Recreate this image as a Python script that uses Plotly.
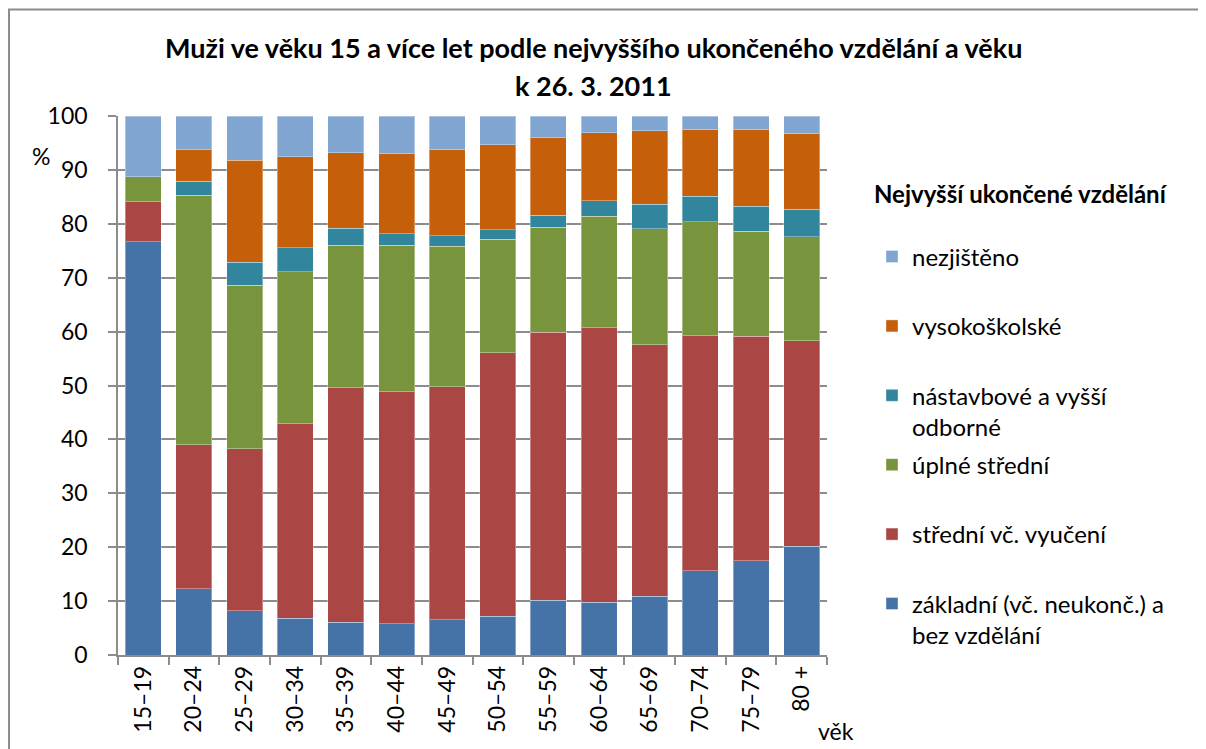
import plotly.graph_objects as go

categories = ["15–19", "20–24", "25–29", "30–34", "35–39", "40–44", "45–49",
              "50–54", "55–59", "60–64", "65–69", "70–74", "75–79", "80 +"]

zakladni = [76.7, 12.3, 8.2, 6.8, 6.1, 5.8, 6.5, 7.2, 10.2, 9.8, 10.9, 15.6, 17.5, 20.2]
stredni_vyuc = [7.4, 26.7, 30.1, 36.1, 43.5, 43.0, 43.3, 48.9, 49.7, 50.9, 46.7, 43.6, 41.6, 38.1]
uplne_stredni = [4.6, 46.3, 30.3, 28.2, 26.4, 27.2, 26.0, 21.0, 19.5, 20.7, 21.5, 21.2, 19.5, 19.3]
nastavbove = [0.0, 2.6, 4.3, 4.5, 3.2, 2.2, 2.0, 1.8, 2.2, 2.9, 4.5, 4.7, 4.7, 5.1]
vysokoskolske = [0.0, 5.8, 18.9, 16.8, 14.0, 14.8, 16.0, 15.8, 14.4, 12.6, 13.7, 12.4, 14.2, 14.1]
nezjisteno = [11.3, 6.3, 8.2, 7.6, 6.8, 7.0, 6.2, 5.3, 4.0, 3.1, 2.7, 2.5, 2.5, 3.2]

series_names = ["základní (vč. neukonč.) a<br>bez vzdělání",
                "střední vč. vyučení<br> ",
                "úplné střední<br> ",
                "nástavbové a vyšší<br>odborné",
                "vysokoškolské<br> ",
                "nezjištěno<br> "]
series_values = [zakladni, stredni_vyuc, uplne_stredni, nastavbove, vysokoskolske, nezjisteno]
series_colors = ["#4673A7", "#AA4644", "#78943C", "#31859C", "#C65F0A", "#7FA5D0"]

y_ticks = list(range(0, 101, 10))

FONT = "Lato, 'Open Sans', sans-serif"

fig = go.Figure()
n = len(series_names)
for i, (name, vals, col) in enumerate(zip(series_names, series_values, series_colors)):
    fig.add_trace(go.Bar(
        x=categories, y=vals, name=name, legendgroup=f"g{i}", legendrank=n - i,
        marker=dict(color=col, line=dict(color="rgba(255,255,255,0.35)", width=1)),
    ))

# page body adds an 8px offset; figure is sized so reference pixel positions line up
OFF = 8
W, H = 1206 - OFF, 749 - OFF
L, T = 118 - OFF, 116 - OFF
R = W - (827 - OFF)
B = H - (655 - OFF)
pw, ph = W - L - R, H - T - B

def px_x(x):
    return (x - OFF - L) / pw

def px_y(y):
    return (H - B - (y - OFF)) / ph

fig.update_layout(
    width=W, height=H,
    margin=dict(l=L, r=R, t=T, b=B, autoexpand=False),
    paper_bgcolor="white", plot_bgcolor="white",
    barmode="stack", bargap=0.29,
    font=dict(family=FONT, size=23, color="#000000"),
    showlegend=True,
    legend=dict(
        x=px_x(872), y=px_y(172), xanchor="left", yanchor="top",
        traceorder="grouped", tracegroupgap=4, valign="top",
        font=dict(family=FONT, size=24, color="#000000"),
        title=dict(text="<b>Nejvyšší ukončené vzdělání</b><br> ", font=dict(family=FONT, size=24)),
        bgcolor="rgba(0,0,0,0)",
    ),
    xaxis=dict(
        type="category", tickangle=-90,
        showline=True, linecolor="#8c8c8c", linewidth=1.5,
        ticks="outside", tickson="boundaries", ticklen=8, tickcolor="#8c8c8c", tickwidth=1.5,
        tickfont=dict(family=FONT, size=23, color="#000000"),
        showgrid=False,
    ),
    yaxis=dict(
        range=[0, 100], tickvals=y_ticks,
        showline=True, linecolor="#8c8c8c", linewidth=1.5,
        ticks="outside", ticklen=8, tickcolor="#8c8c8c", tickwidth=1.5,
        showgrid=True, gridcolor="#8c8c8c", gridwidth=1.5,
        tickfont=dict(family=FONT, size=23, color="#000000"),
        ticklabelstandoff=16,
        zeroline=False,
    ),
    annotations=[
        dict(text="<b>Muži ve věku 15 a více let podle nejvyššího ukončeného vzdělání a věku</b>",
             xref="paper", yref="paper", x=px_x(593), y=px_y(47), xanchor="center", yanchor="middle",
             showarrow=False, font=dict(family=FONT, size=27, color="#000000")),
        dict(text="<b>k 26. 3. 2011</b>",
             xref="paper", yref="paper", x=px_x(593), y=px_y(85), xanchor="center", yanchor="middle",
             showarrow=False, font=dict(family=FONT, size=27, color="#000000")),
        dict(text="%", xref="paper", yref="paper", x=px_x(41), y=px_y(156),
             xanchor="center", yanchor="middle", showarrow=False,
             font=dict(family=FONT, size=23, color="#000000")),
        dict(text="věk", xref="paper", yref="paper", x=px_x(836), y=px_y(731),
             xanchor="center", yanchor="middle", showarrow=False,
             font=dict(family=FONT, size=23, color="#000000")),
    ],
    shapes=[
        dict(type="line", xref="paper", yref="paper", x0=px_x(8), x1=px_x(1215),
             y0=px_y(9.5), y1=px_y(9.5), line=dict(color="#8c8c8c", width=2)),
        dict(type="line", xref="paper", yref="paper", x0=px_x(9), x1=px_x(9),
             y0=px_y(9.5), y1=px_y(760), line=dict(color="#8c8c8c", width=2)),
    ],
)

fig.write_html("out.html")
